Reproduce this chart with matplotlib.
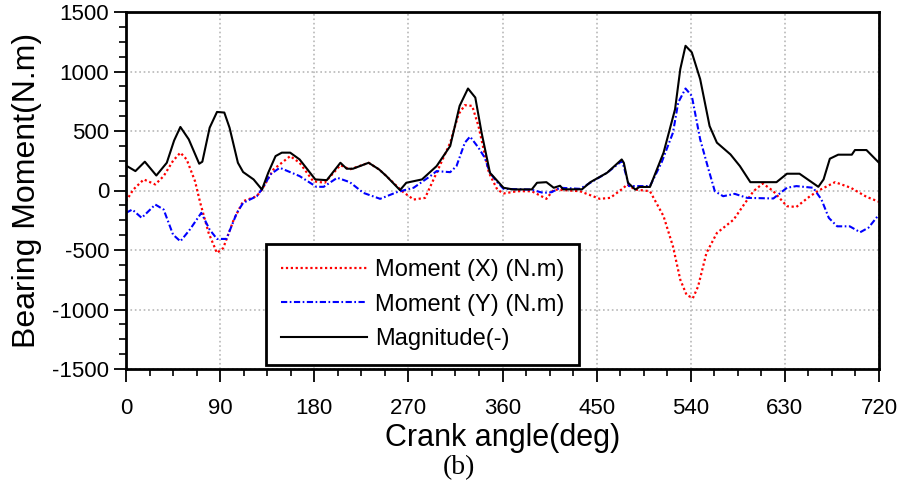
import numpy as np
import matplotlib
matplotlib.use("Agg")
import matplotlib.pyplot as plt
from matplotlib.ticker import MultipleLocator

# crank angle (deg) / value pairs
mag_deg = [0, 9, 18, 29, 39, 46, 52, 60, 70, 73, 80, 87, 94, 99, 107, 112, 122, 130, 136, 143,
           149, 157, 166, 181, 192, 205, 211, 217, 232, 242, 249, 262, 268, 283, 297, 310, 319,
           327, 334, 340, 348, 361, 370, 388, 393, 402, 409, 415, 418, 436, 444, 460, 474, 476,
           480, 487, 491, 501, 514, 525, 530, 535, 541, 549, 558, 565, 578, 587, 597, 622, 632,
           644, 662, 667, 673, 681, 694, 697, 708, 720]
mag_val = [210, 163, 242, 126, 233, 420, 534, 430, 225, 242, 528, 660, 655, 528, 233, 155, 93, 8,
           149, 289, 318, 318, 261, 93, 87, 233, 183, 183, 233, 177, 121, 3, 65, 93, 205, 374, 711,
           857, 781, 486, 149, 23, 9, 9, 65, 70, 23, 40, 10, 10, 70, 149, 261, 233, 65, 8, 30, 30,
           318, 683, 1020, 1216, 1161, 936, 542, 402, 303, 205, 70, 70, 141, 141, 31, 93, 267, 301,
           301, 340, 340, 233]

mx_deg = [0, 7, 17, 28, 36, 45, 52, 58, 66, 71, 79, 87, 93, 103, 112, 125, 130, 141, 157, 166,
          179, 190, 205, 214, 232, 242, 249, 264, 275, 286, 297, 310, 318, 324, 331, 337, 347, 355,
          361, 374, 388, 402, 409, 434, 453, 463, 476, 479, 487, 501, 514, 523, 530, 536, 542, 547,
          555, 565, 581, 592, 600, 609, 619, 632, 641, 654, 663, 678, 693, 708, 720]
mx_val = [-90, 8, 93, 51, 121, 250, 318, 261, 78, -104, -357, -525, -483, -245, -90, -48, 8, 177,
          289, 233, 78, 65, 213, 177, 233, 177, 121, -6, -76, -62, 149, 402, 641, 717, 711, 542, 149,
          8, -25, -6, -6, -70, 8, -6, -70, -62, 23, 51, 8, -6, -216, -470, -750, -877, -905, -807,
          -525, -357, -245, -104, -6, 59, -6, -132, -138, -48, 3, 70, 23, -53, -95]

my_deg = [0, 6, 15, 28, 36, 45, 52, 61, 72, 80, 87, 96, 106, 112, 125, 131, 138, 147, 166, 182,
          189, 202, 214, 227, 243, 259, 275, 291, 297, 310, 316, 324, 329, 337, 343, 348, 355, 361,
          387, 399, 407, 415, 434, 444, 460, 474, 476, 481, 501, 512, 523, 528, 535, 541, 549, 557,
          563, 571, 582, 594, 619, 632, 641, 657, 665, 672, 680, 692, 702, 710, 720]
my_val = [-188, -160, -230, -118, -160, -371, -427, -329, -188, -329, -407, -407, -188, -104, -48,
          23, 135, 191, 121, 31, 31, 107, 70, -20, -70, -14, 23, 121, 163, 154, 205, 402, 453, 360,
          276, 149, 70, 14, 8, -20, -14, 23, 14, 65, 149, 247, 200, 37, 37, 233, 486, 739, 857, 795,
          430, 177, -6, -48, -28, -62, -67, 23, 37, 23, -76, -230, -301, -301, -351, -312, -202]

x_ticks = [0, 90, 180, 270, 360, 450, 540, 630, 720]
y_ticks = [-1500, -1000, -500, 0, 500, 1000, 1500]

plt.rcParams['font.family'] = ['Liberation Sans', 'DejaVu Sans']
plt.rcParams['axes.unicode_minus'] = False

fig = plt.figure(figsize=(9.01, 4.92), dpi=100)
ax = fig.add_axes([126/901, 1-369/492, 753/901, 357/492])

ax.plot(mx_deg, mx_val, color='red', lw=1.6, linestyle=(0, (1, 1.2)), label='Moment (X) (N.m)')
ax.plot(my_deg, my_val, color='blue', lw=1.5, linestyle=(0, (3, 1.2, 0.8, 1.2)), label='Moment (Y) (N.m)')
ax.plot(mag_deg, mag_val, color='black', lw=1.5, label='Magnitude(-)')

ax.set_xlim(0, 720)
ax.set_ylim(-1500, 1500)
ax.set_xticks(x_ticks)
ax.set_yticks(y_ticks)
ax.xaxis.set_minor_locator(MultipleLocator(22.5))
ax.yaxis.set_minor_locator(MultipleLocator(125))
ax.tick_params(which='major', direction='out', length=9, width=1.3, labelsize=16)
ax.tick_params(which='minor', direction='out', length=5, width=1.2)
ax.tick_params(axis='x', which='major', pad=12)
ax.tick_params(axis='y', which='major', pad=3)
ax.grid(True, which='major', color='#b8b8b8', linestyle=':', linewidth=1.2)
for sp in ax.spines.values():
    sp.set_linewidth(2)

ax.set_xlabel('Crank angle(deg)', fontsize=22, labelpad=3)
ax.set_ylabel('Bearing Moment(N.m)', fontsize=23)
ax.yaxis.set_label_coords(-0.111, 0.5)

leg = ax.legend(loc='lower left', bbox_to_anchor=(0.186, 0.011), borderaxespad=0,
                fontsize=17, handlelength=3.65, handletextpad=0.35, labelspacing=0.54,
                borderpad=0.62, fancybox=False, framealpha=1)
leg.get_frame().set_edgecolor('black')
leg.get_frame().set_linewidth(2)

fig.text(459/901, 1-468/492, '(b)', fontsize=20, family='Liberation Serif', ha='center', va='center')

fig.savefig('out.png', dpi=100)
